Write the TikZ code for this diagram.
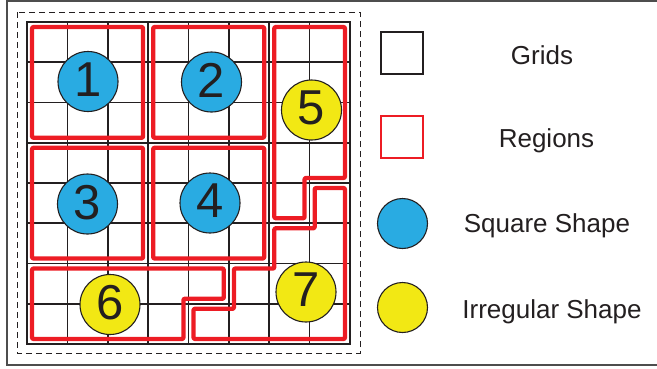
\documentclass[tikz,border=0pt]{standalone}
\usepackage{fontspec}
\setmainfont{Liberation Sans}
\usetikzlibrary{positioning}
\definecolor{gdink}{HTML}{231F20}
\definecolor{gdred}{HTML}{ED1C24}
\definecolor{gdblue}{HTML}{29ABE2}
\definecolor{gdyellow}{HTML}{F2E814}
\definecolor{gdframe}{HTML}{4D4D4D}
\newcommand{\ins}{0.125}

\begin{document}
\begin{tikzpicture}[
  x=1pt,y=-1pt,
  every node/.style={font=\fontsize{26}{30}\selectfont,text=gdink},
  cell/.style={draw=gdink,line width=1.6pt},
  region/.style={draw=gdred,line width=4.2pt,line join=round,rounded corners=1pt},
  piece/.style={circle,draw=gdink,line width=1.1pt,fill=gdblue,minimum size=60pt,inner sep=0pt,text depth=4pt,font=\fontsize{49}{49}\selectfont},
  oddpiece/.style={piece,fill=gdyellow},
  key/.style={minimum size=42pt,inner sep=0pt},
  keytext/.style={anchor=base}
]
\useasboundingbox (0,0) rectangle (657,368);
% frames
\draw[gdframe,line width=1.3pt] (657,1) -- (7,1) -- (7,365) -- (657,365);
\draw[gdink,line width=1pt,dash pattern=on 6pt off 4pt] (17,12) rectangle (360,353);
% board
\begin{scope}[shift={(27,22)},x=40.375pt,y=-40.25pt]
  \foreach \k in {0,...,8} {
    \draw[cell] (\k,0) -- (\k,8);
    \draw[cell] (0,\k) -- (8,\k);
  }
  \draw[cell,line width=2.2pt] (0,0) rectangle (8,8);
  \draw[region] (\ins,\ins) rectangle ({3-\ins},{3-\ins});
  \draw[region] ({3+\ins},\ins) rectangle ({6-\ins},{3-\ins});
  \draw[region] (\ins,{3+\ins}) rectangle ({3-\ins},{6-\ins});
  \draw[region] ({3+\ins},{3+\ins}) rectangle ({6-\ins},{6-\ins});
  \draw[region] ({6+\ins},\ins) -- ({8-\ins},\ins) -- ({8-\ins},{4-\ins}) -- ({7-\ins},{4-\ins})
    -- ({7-\ins},{5-\ins}) -- ({6+\ins},{5-\ins}) -- cycle;
  \draw[region] (\ins,{6+\ins}) -- ({5-\ins},{6+\ins}) -- ({5-\ins},{7-\ins}) -- ({4-\ins},{7-\ins})
    -- ({4-\ins},{8-\ins}) -- (\ins,{8-\ins}) -- cycle;
  \draw[region] ({7+\ins},{4+\ins}) -- ({8-\ins},{4+\ins}) -- ({8-\ins},{8-\ins}) -- ({4+\ins},{8-\ins})
    -- ({4+\ins},{7+\ins}) -- ({5+\ins},{7+\ins}) -- ({5+\ins},{6+\ins}) -- ({6+\ins},{6+\ins})
    -- ({6+\ins},{5+\ins}) -- ({7+\ins},{5+\ins}) -- cycle;
\end{scope}
% shapes
\node[piece] (p1) at (88,81.5) {1};
\node[piece] (p2) at (211.5,82) {2};
\node[piece] (p3) at (87.5,204) {3};
\node[piece] (p4) at (210,203) {4};
\node[oddpiece] (p5) at (311.5,110) {5};
\node[oddpiece] (p6) at (110,304.5) {6};
\node[oddpiece] (p7) at (306,292) {7};
% legend
\node[key,draw=gdink,line width=1.8pt] (gridkey) at (402,53) {};
\node[key,draw=gdred,line width=1.2pt] (regionkey) at (402,137) {};
\node[piece,minimum size=50pt] (squarekey) at (402.5,223.5) {};
\node[oddpiece,minimum size=50pt] (irregkey) at (402.5,307.5) {};
\node[keytext] (gridtext) at (542,64) {Grids};
\node[keytext] (regiontext) at (546.5,147) {Regions};
\node[keytext] (squaretext) at (547,232) {Square Shape};
\node[keytext] (irregtext) at (552,318) {Irregular Shape};
\end{tikzpicture}
\end{document}
